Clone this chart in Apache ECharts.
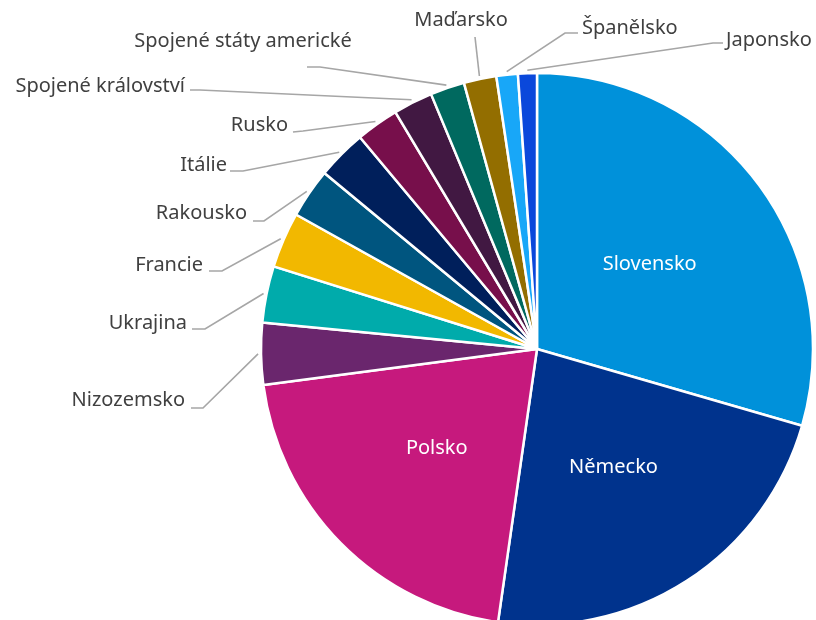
<!DOCTYPE html>
<html>
<head>
<meta charset="utf-8">
<title>Podíl zemí</title>
<script src="https://cdn.jsdelivr.net/npm/echarts@6/dist/echarts.min.js"></script>
<style>
  html, body { margin: 0; padding: 0; background: #fff; }
  #chart { width: 816px; height: 620px; }
</style>
</head>
<body>
<div id="chart"></div>
<script>
// koláčový graf – podíl jednotlivých zemí (%)
const countries = ['Slovensko', 'Německo', 'Polsko', 'Nizozemsko', 'Ukrajina', 'Francie', 'Rakousko',
  'Itálie', 'Rusko', 'Spojené království', 'Spojené státy americké', 'Maďarsko', 'Španělsko', 'Japonsko']
const shares = [29.4, 22.7, 20.6, 3.6, 3.3, 3.25, 2.9, 2.9, 2.5, 2.3, 2.0, 1.9, 1.25, 1.1]
const insideLabels = ['Slovensko', 'Německo', 'Polsko']

const palette = ['#0091DA', '#00338D', '#C6197D', '#6A266D', '#00ABAB', '#F2B800', '#00557F',
  '#001F5B', '#770F4B', '#411842', '#00695F', '#936E00', '#18A7F8', '#0A48DB']

const pieCenter = [537, 349]
const pieRadius = 276

// umístění popisků mimo koláč (text, ohyb a konec vodicí čáry)
const labelSpots = {
  'Nizozemsko': { text: [185, 400, 'right'], bend: [203, 408], end: [191, 408] },
  'Ukrajina': { text: [187, 323, 'right'], bend: [205, 329], end: [192, 329] },
  'Francie': { text: [203, 265, 'right'], bend: [222, 271], end: [209, 271] },
  'Rakousko': { text: [247, 213, 'right'], bend: [264, 221], end: [253, 221] },
  'Itálie': { text: [227, 165, 'right'], bend: [243, 171], end: [230, 171] },
  'Rusko': { text: [288, 125, 'right'], bend: [303, 131], end: [293, 132] },
  'Spojené království': { text: [185, 86, 'right'], bend: [200, 90], end: [190, 90] },
  'Spojené státy americké': { text: [243, 41, 'center'], bend: [320, 67], end: [307, 67] },
  'Maďarsko': { text: [461, 20, 'center'], bend: [475, 37], end: [475, 37] },
  'Španělsko': { text: [582, 28, 'left'], bend: [565, 33], end: [578, 33] },
  'Japonsko': { text: [726, 40, 'left'], bend: [713, 43], end: [723, 43] }
}

const chart = echarts.init(document.getElementById('chart'), null, { renderer: 'canvas' })

const data = countries.map((name, i) => {
  const item = { name: name, value: shares[i], itemStyle: { color: palette[i] } }
  if (insideLabels.indexOf(name) >= 0) {
    item.label = { position: 'inside', color: '#fff' }
    item.labelLine = { show: false }
  }
  return item
})

chart.setOption({
  animation: false,
  series: [{
    type: 'pie',
    center: pieCenter,
    radius: [0, pieRadius],
    startAngle: 90,
    clockwise: true,
    avoidLabelOverlap: false,
    itemStyle: { borderColor: '#fff', borderWidth: 2.5 },
    label: {
      show: true,
      position: 'outside',
      formatter: '{b}',
      fontFamily: 'Noto Sans',
      fontSize: 20,
      color: '#404040'
    },
    labelLine: {
      show: true,
      length: 25,
      length2: 15,
      lineStyle: { color: '#A6A6A6', width: 1.6 }
    },
    labelLayout: function (params) {
      const spot = labelSpots[countries[params.dataIndex]]
      if (!spot || !params.labelLinePoints) {
        return
      }
      // začátek čáry kousek za okrajem výseče
      const p0 = params.labelLinePoints[0]
      const dx = p0[0] - pieCenter[0]
      const dy = p0[1] - pieCenter[1]
      const k = (pieRadius + 3) / Math.sqrt(dx * dx + dy * dy)
      const start = [pieCenter[0] + dx * k, pieCenter[1] + dy * k]
      return {
        x: spot.text[0],
        y: spot.text[1],
        align: spot.text[2],
        verticalAlign: 'middle',
        labelLinePoints: [start, spot.bend, spot.end]
      }
    },
    data: data
  }]
})
</script>
</body>
</html>
